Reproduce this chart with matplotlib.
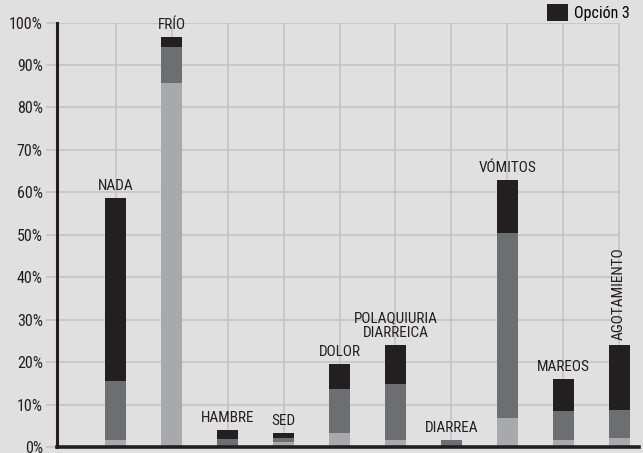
import matplotlib
matplotlib.use("Agg")
import matplotlib.pyplot as plt
from matplotlib.patches import Patch

categories = ["NADA", "FRÍO", "HAMBRE", "SED", "DOLOR", "POLAQUIURIA\nDIARREICA",
              "DIARREA", "VÓMITOS", "MAREOS", "AGOTAMIENTO"]
opcion1 = [1.7, 85.7, 0.0, 1.3, 3.4, 1.7, 0.0, 7.0, 1.6, 2.3]
opcion2 = [13.9, 8.5, 2.0, 1.0, 10.3, 13.2, 1.7, 43.4, 6.9, 6.5]
opcion3 = [43.1, 2.4, 2.1, 1.1, 5.9, 9.2, 0.0, 12.5, 7.6, 15.3]
yticks = [0, 10, 20, 30, 40, 50, 60, 70, 80, 90, 100]

BG = "#e0e0e0"
DARK = "#231f20"
MID = "#6d6e71"
LIGHT = "#a7a9ac"
GRID = "#c4c4c4"

plt.rcParams["font.family"] = ["Roboto Condensed", "DejaVu Sans"]
plt.rcParams["font.stretch"] = "condensed"

fig = plt.figure(figsize=(6.43, 4.53), dpi=100, facecolor=BG)
ax = fig.add_axes([0.0882, 0.0126, 0.9058, 0.9377], facecolor=BG)

x = list(range(len(categories)))
ax.set_xlim(-1.06, 9.36)
ax.set_ylim(0, 100)

# grid drawn by hand: horizontal lines stop at the last column
ax.hlines(yticks[1:], -1.06, 9, color=GRID, linewidth=1.2, zorder=0)
ax.vlines(x, 0, 100, color=GRID, linewidth=1.2, zorder=0)

width = 0.375
bottom2 = list(opcion1)
bottom3 = [a + b for a, b in zip(opcion1, opcion2)]
ax.bar(x, opcion1, width, color=LIGHT, zorder=2)
ax.bar(x, opcion2, width, bottom=bottom2, color=MID, zorder=2)
ax.bar(x, opcion3, width, bottom=bottom3, color=DARK, zorder=2)

totals = [a + b + c for a, b, c in zip(opcion1, opcion2, opcion3)]
for xi, total, name in zip(x, totals, categories):
    if name == "AGOTAMIENTO":
        ax.text(xi, total + 1.2, name, rotation=90, ha="center", va="bottom",
                fontsize=11, color=DARK)
    else:
        ax.text(xi, total + 1.2, name, ha="center", va="bottom",
                fontsize=11, color=DARK, linespacing=1.0, multialignment="center")

ax.set_xticks([])
ax.set_yticks(yticks)
ax.set_yticklabels([f"{v}%" for v in yticks], fontsize=11.5, color=DARK)
ax.tick_params(axis="y", length=8, width=1.2, color=GRID, pad=2)

for side in ("top", "right"):
    ax.spines[side].set_visible(False)
ax.spines["left"].set_color(DARK)
ax.spines["left"].set_linewidth(2.2)
ax.spines["bottom"].set_color(DARK)
ax.spines["bottom"].set_linewidth(2.6)

handle = Patch(facecolor=DARK, edgecolor="none", label="Opción 3")
fig.legend(handles=[handle], loc="upper right", bbox_to_anchor=(0.985, 1.0),
           frameon=False, fontsize=11.5, handlelength=1.3, handleheight=1.25,
           handletextpad=0.35, borderaxespad=0.1, borderpad=0.15)

fig.savefig("out.png", dpi=100, facecolor=BG)
